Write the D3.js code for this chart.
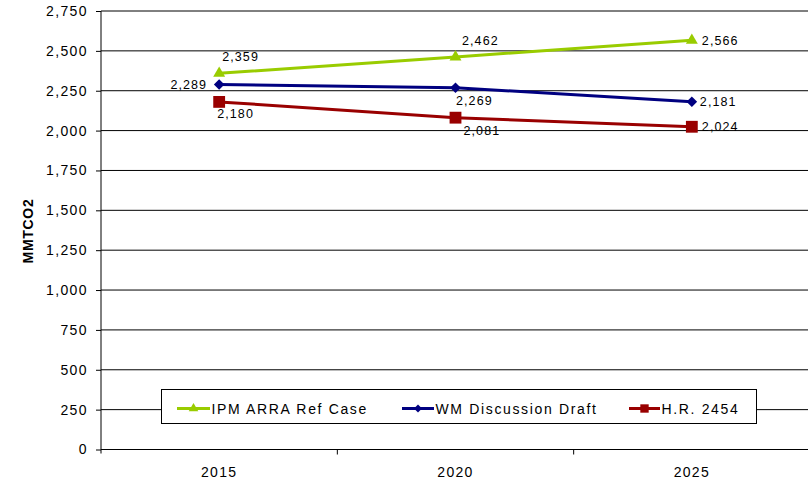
<!DOCTYPE html>
<html>
<head>
<meta charset="utf-8">
<script src="https://cdn.jsdelivr.net/npm/d3@7"></script>
<style>
  html, body { margin: 0; padding: 0; background: #fff; }
  svg { display: block; font-family: "Liberation Sans", Arial, sans-serif; }
</style>
</head>
<body>
<svg id="chart" width="808" height="484"></svg>
<script>
// Emissions projections, MMTCO2
const years = ["2015", "2020", "2025"];
const ipmArraRefCase = [2359, 2462, 2566];
const wmDiscussionDraft = [2289, 2269, 2181];
const hr2454 = [2180, 2081, 2024];
const seriesNames = ["IPM ARRA Ref Case", "WM Discussion Draft", "H.R. 2454"];
const yTickValues = [0, 250, 500, 750, 1000, 1250, 1500, 1750, 2000, 2250, 2500, 2750];
const yTitle = "MMTCO2";

// Styling for each series (colour, marker symbol, marker size)
const styles = [
  { color: "#99CC00", symbol: d3.symbolTriangle, size: 62, legendSize: 40 },
  { color: "#000080", symbol: d3.symbolDiamond2, size: 72, legendSize: 40 },
  { color: "#990000", symbol: d3.symbolSquare, size: 140, legendSize: 70 }
];

// Label placement relative to each marker: [dx, dy, anchor]
const labelPlacement = [
  [[3, -12, "start"], [6.5, -12, "start"], [10, 4.7, "start"]],
  [[-12, 4.5, "end"], [0.5, 17.3, "start"], [8, 4.3, "start"]],
  [[-2, 16, "start"], [8, 17, "start"], [10, 4.5, "start"]]
];

const svg = d3.select("#chart");
const plotLeft = 101, plotRight = 810, plotTop = 11, plotBottom = 449.5;

const x = d3.scaleBand().domain(years).range([plotLeft, plotRight]);
const y = d3.scaleLinear().domain([0, 2750]).range([plotBottom, plotTop]);
const fmt = d3.format(",");

// Horizontal gridlines
svg.append("g")
  .selectAll("line")
  .data(yTickValues.filter(v => v > 0))
  .join("line")
  .attr("x1", plotLeft).attr("x2", 808)
  .attr("y1", d => y(d)).attr("y2", d => y(d))
  .attr("stroke", "#000").attr("stroke-width", 1);

// Y axis
const yAxis = svg.append("g")
  .attr("transform", `translate(${plotLeft},0)`)
  .call(d3.axisLeft(y).tickValues(yTickValues).tickFormat(fmt).tickSize(5).tickSizeOuter(0).tickPadding(8));
yAxis.select(".domain").attr("stroke", "#000").attr("d", `M0,${plotTop}V${plotBottom + 4}`);
yAxis.selectAll(".tick line").attr("stroke", "#000");
yAxis.selectAll(".tick text")
  .attr("font-size", 14).attr("fill", "#000")
  .attr("font-family", "Liberation Sans, Arial, sans-serif")
  .style("letter-spacing", "1.4px");

// X axis: ticks on band edges, labels at band centres
const xAxis = svg.append("g").attr("transform", `translate(0,${plotBottom})`);
xAxis.append("line").attr("x1", plotLeft).attr("x2", 808).attr("y1", 0).attr("y2", 0).attr("stroke", "#000");
xAxis.selectAll("line.edge")
  .data(years.slice(1))
  .join("line").attr("class", "edge")
  .attr("x1", d => x(d)).attr("x2", d => x(d))
  .attr("y1", 0).attr("y2", 5).attr("stroke", "#000");
xAxis.selectAll("text")
  .data(years)
  .join("text")
  .attr("x", d => x(d) + x.bandwidth() / 2)
  .attr("y", 27.5)
  .attr("text-anchor", "middle")
  .attr("font-size", 14)
  .style("letter-spacing", "1.3px")
  .text(d => d);

// Y axis title
svg.append("text")
  .attr("transform", `translate(33,231) rotate(-90)`)
  .attr("text-anchor", "middle")
  .attr("font-size", 14)
  .attr("font-weight", "bold")
  .style("letter-spacing", "0.7px")
  .text(yTitle);

// Series
const allSeries = [ipmArraRefCase, wmDiscussionDraft, hr2454];
const cx = d => x(d) + x.bandwidth() / 2;
const line = d3.line().x((v, i) => cx(years[i])).y(v => y(v));

allSeries.forEach((vals, s) => {
  const st = styles[s];
  const g = svg.append("g");
  g.append("path")
    .attr("d", line(vals))
    .attr("fill", "none")
    .attr("stroke", st.color)
    .attr("stroke-width", 3);
  g.selectAll("path.marker")
    .data(vals)
    .join("path").attr("class", "marker")
    .attr("d", d3.symbol().type(st.symbol).size(st.size))
    .attr("transform", (v, i) => `translate(${cx(years[i])},${y(v)})`)
    .attr("fill", st.color);
});

// Data labels
allSeries.forEach((vals, s) => {
  svg.append("g").selectAll("text")
    .data(vals)
    .join("text")
    .attr("x", (v, i) => cx(years[i]) + labelPlacement[s][i][0])
    .attr("y", (v, i) => y(v) + labelPlacement[s][i][1])
    .attr("text-anchor", (v, i) => labelPlacement[s][i][2])
    .attr("font-size", 12.5)
    .style("letter-spacing", "1.1px")
    .attr("fill", "#000")
    .text(v => fmt(v));
});

// Legend
const legend = svg.append("g");
legend.append("rect")
  .attr("x", 161.5).attr("y", 389.5).attr("width", 595).attr("height", 34)
  .attr("fill", "#fff").attr("stroke", "#000").attr("stroke-width", 1);
const legendX = [[177, 210], [402, 434], [629, 660]];
const legendY = 408.5;
seriesNames.forEach((name, s) => {
  const st = styles[s];
  const [x0, x1] = legendX[s];
  legend.append("line")
    .attr("x1", x0).attr("x2", x1).attr("y1", legendY).attr("y2", legendY)
    .attr("stroke", st.color).attr("stroke-width", 3);
  legend.append("path")
    .attr("d", d3.symbol().type(st.symbol).size(st.legendSize))
    .attr("transform", `translate(${(x0 + x1) / 2},${legendY})`)
    .attr("fill", st.color);
  legend.append("text")
    .attr("x", x1 + 1.5).attr("y", legendY + 5)
    .attr("font-size", 14)
    .style("letter-spacing", "1.65px")
    .text(name);
});
</script>
</body>
</html>
